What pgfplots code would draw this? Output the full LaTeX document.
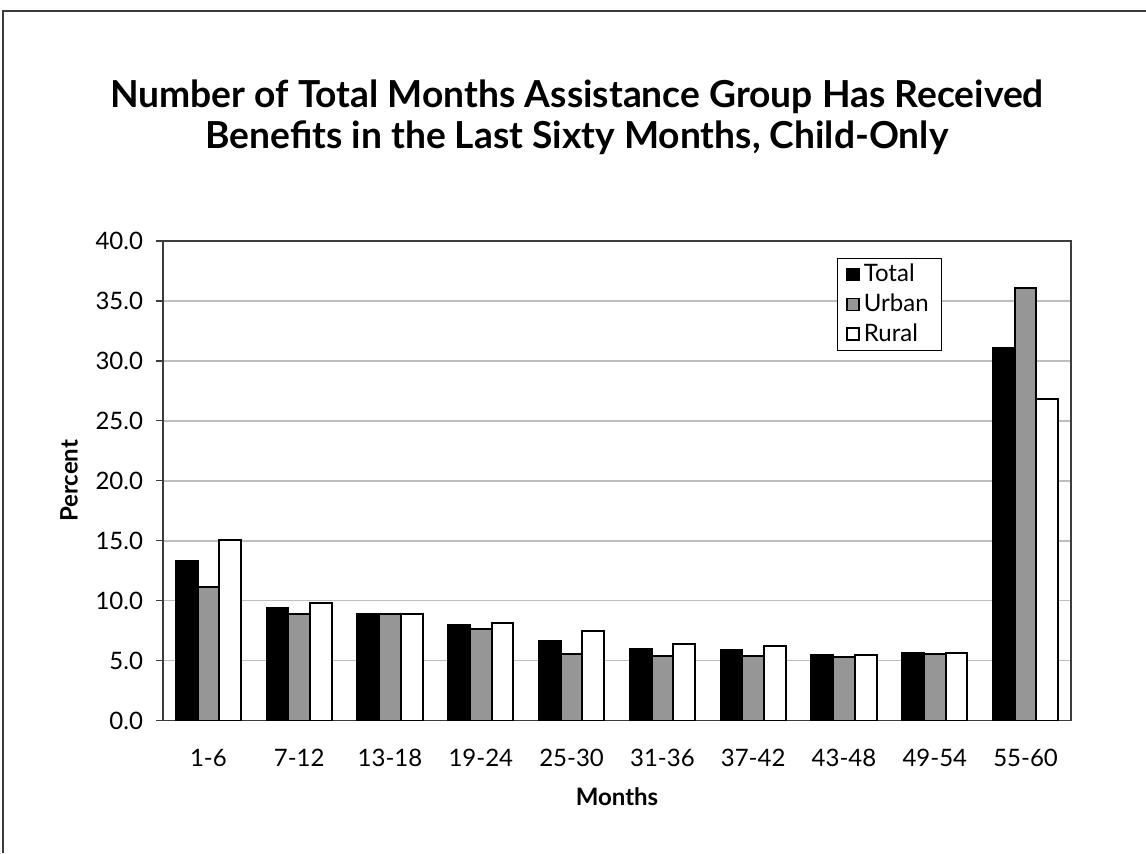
\documentclass[border=0pt]{standalone}
\usepackage{fontspec}
\setmainfont{Lato}
\usepackage{pgfplots}
\pgfplotsset{compat=1.18}
\definecolor{urbangray}{RGB}{150,150,150}
\definecolor{gridgray}{RGB}{190,190,190}
\definecolor{axisgray}{RGB}{60,60,60}
\begin{document}
\begin{tikzpicture}
\path[use as bounding box] (0,0) rectangle (573pt,426.5pt);
\draw[axisgray, line width=0.6pt] (1.5pt,0) -- (1.5pt,421pt) -- (573pt,421pt);
\node[align=center, font=\fontsize{18.6}{20.5}\selectfont\bfseries] at (288.5pt,368pt)
  {Number of Total Months Assistance Group Has Received\\Benefits in the Last Sixty Months, Child-Only};
\begin{axis}[
  at={(81.5pt,66.15pt)}, anchor=south west,
  scale only axis, width=454pt, height=239.85pt,
  ybar=0pt, bar width=10.85pt,
  xmin=0.5, xmax=10.5, ymin=0, ymax=40,
  xtick={1,...,10},
  xticklabels={1-6,7-12,13-18,19-24,25-30,31-36,37-42,43-48,49-54,55-60},
  ytick={0,5,...,40},
  ytick pos=left,
  major x tick style={draw=none},
  ytick style={axisgray, line width=0.6pt},
  tick align=outside, major tick length=3.5pt,
  ymajorgrids, grid style={gridgray, line width=0.7pt},
  axis line style={axisgray, line width=0.6pt},
  /pgf/number format/assume math mode=true,
  yticklabel style={/pgf/number format/fixed, /pgf/number format/fixed zerofill, /pgf/number format/precision=1, xshift=-3pt},
  ticklabel style={font=\fontsize{12}{14}\selectfont},
  xticklabel style={yshift=-7pt},
  xlabel={\bfseries Months}, ylabel={\bfseries Percent},
  label style={font=\fontsize{12}{14}\selectfont},
  xlabel style={yshift=-4pt},
  ylabel style={yshift=2pt},
  legend style={at={(0.742,0.965)}, anchor=north west, draw=black, line width=0.5pt,
    font=\fontsize{12}{14}\selectfont, row sep=0.5pt, inner xsep=4.5pt, inner ysep=1pt,
    /tikz/every even column/.append style={column sep=1pt}},
  legend cell align=left,
  legend image code/.code={\draw[#1, line width=0.8pt] (0pt,-3pt) rectangle (6pt,3pt);},
]
\addplot[fill=black, draw=black, line width=1pt] coordinates {
(1,13.33) (2,9.42) (3,8.9) (4,7.97) (5,6.61) (6,5.94) (7,5.89) (8,5.44) (9,5.67) (10,31.1)};
\addplot[fill=urbangray, draw=black, line width=1pt] coordinates {
(1,11.17) (2,8.86) (3,8.88) (4,7.61) (5,5.56) (6,5.36) (7,5.39) (8,5.33) (9,5.56) (10,36.1)};
\addplot[fill=white, draw=black, line width=1pt] coordinates {
(1,15.06) (2,9.78) (3,8.89) (4,8.17) (5,7.47) (6,6.42) (7,6.22) (8,5.47) (9,5.67) (10,26.8)};
\legend{Total,Urban,Rural}
\end{axis}
\end{tikzpicture}
\end{document}
